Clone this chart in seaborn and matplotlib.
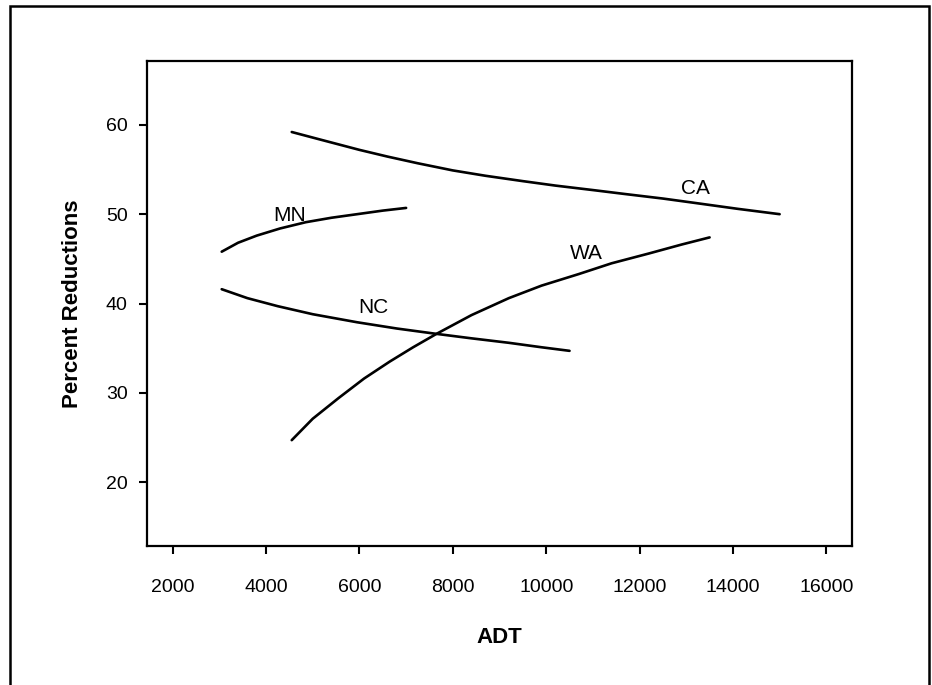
import matplotlib

matplotlib.use("Agg")
import matplotlib.pyplot as plt
import pandas as pd
import seaborn as sns
from matplotlib.patches import Rectangle

# curves (ADT, percent reduction)
ca_adt = [4550, 5200, 6000, 6600, 7250, 8000, 8700, 9500, 10200, 11000,
          11700, 12500, 13200, 14100, 15000]
ca_pct = [59.2, 58.3, 57.2, 56.45, 55.7, 54.9, 54.3, 53.7, 53.2, 52.7,
          52.25, 51.75, 51.25, 50.6, 50.0]

mn_adt = [3050, 3400, 3800, 4300, 4850, 5400, 5950, 6500, 7000]
mn_pct = [45.8, 46.8, 47.6, 48.4, 49.1, 49.6, 50.0, 50.4, 50.7]

nc_adt = [3050, 3600, 4250, 5000, 5950, 6800, 7650, 8400, 9200, 9900, 10500]
nc_pct = [41.6, 40.6, 39.7, 38.8, 37.9, 37.2, 36.6, 36.1, 35.6, 35.1, 34.7]

wa_adt = [4550, 5000, 5550, 6100, 6650, 7150, 7650, 8400, 9200, 9900,
          10700, 11400, 12200, 12900, 13500]
wa_pct = [24.7, 27.1, 29.4, 31.6, 33.5, 35.1, 36.6, 38.7, 40.6, 42.0,
          43.3, 44.5, 45.6, 46.6, 47.4]

states = ["CA", "MN", "NC", "WA"]
label_adt = [13200, 4500, 6300, 10850]
label_pct = [52.9, 49.9, 39.5, 45.6]

x_ticks = [2000, 4000, 6000, 8000, 10000, 12000, 14000, 16000]
y_ticks = [20, 30, 40, 50, 60]

frames = []
for st, xs, ys in zip(
    states, [ca_adt, mn_adt, nc_adt, wa_adt], [ca_pct, mn_pct, nc_pct, wa_pct]
):
    frames.append(pd.DataFrame({"State": st, "ADT": xs, "Percent": ys}))
df = pd.concat(frames, ignore_index=True)

sns.set_theme(style="ticks")
plt.rcParams["font.family"] = ["Liberation Sans", "DejaVu Sans"]
plt.rcParams["text.color"] = "black"
plt.rcParams["axes.labelcolor"] = "black"

fig = plt.figure(figsize=(9.32, 6.85), dpi=100)
ax = fig.add_axes([147 / 932, 1 - 546 / 685, 705 / 932, 485 / 685])

sns.lineplot(
    data=df,
    x="ADT",
    y="Percent",
    hue="State",
    palette={s: "black" for s in states},
    sort=False,
    estimator=None,
    linewidth=1.9,
    legend=False,
    ax=ax,
)

for st, lx, ly in zip(states, label_adt, label_pct):
    ax.text(lx, ly, st, ha="center", va="center", fontsize=15, color="black")

ax.set_xlim(1450, 16550)
ax.set_ylim(12.85, 67.15)
ax.set_xticks(x_ticks)
ax.set_yticks(y_ticks)
ax.tick_params(direction="out", length=6, width=1.5, labelsize=14,
               colors="black")
ax.tick_params(axis="x", pad=18)
ax.tick_params(axis="y", pad=8)
for sp in ax.spines.values():
    sp.set_visible(True)
    sp.set_linewidth(1.6)
    sp.set_color("black")

ax.set_xlabel("ADT", fontsize=16, fontweight="bold", labelpad=22)
ax.set_ylabel("Percent Reductions", fontsize=16, fontweight="bold", labelpad=16)

# outer frame around the whole figure (bottom edge cut off)
fig.patches.append(
    Rectangle((10 / 932, -0.1), 919 / 932, 1.1 - 6 / 685,
              transform=fig.transFigure, fill=False, lw=1.8, edgecolor="black")
)

fig.savefig("out.png", dpi=100, facecolor="white")
